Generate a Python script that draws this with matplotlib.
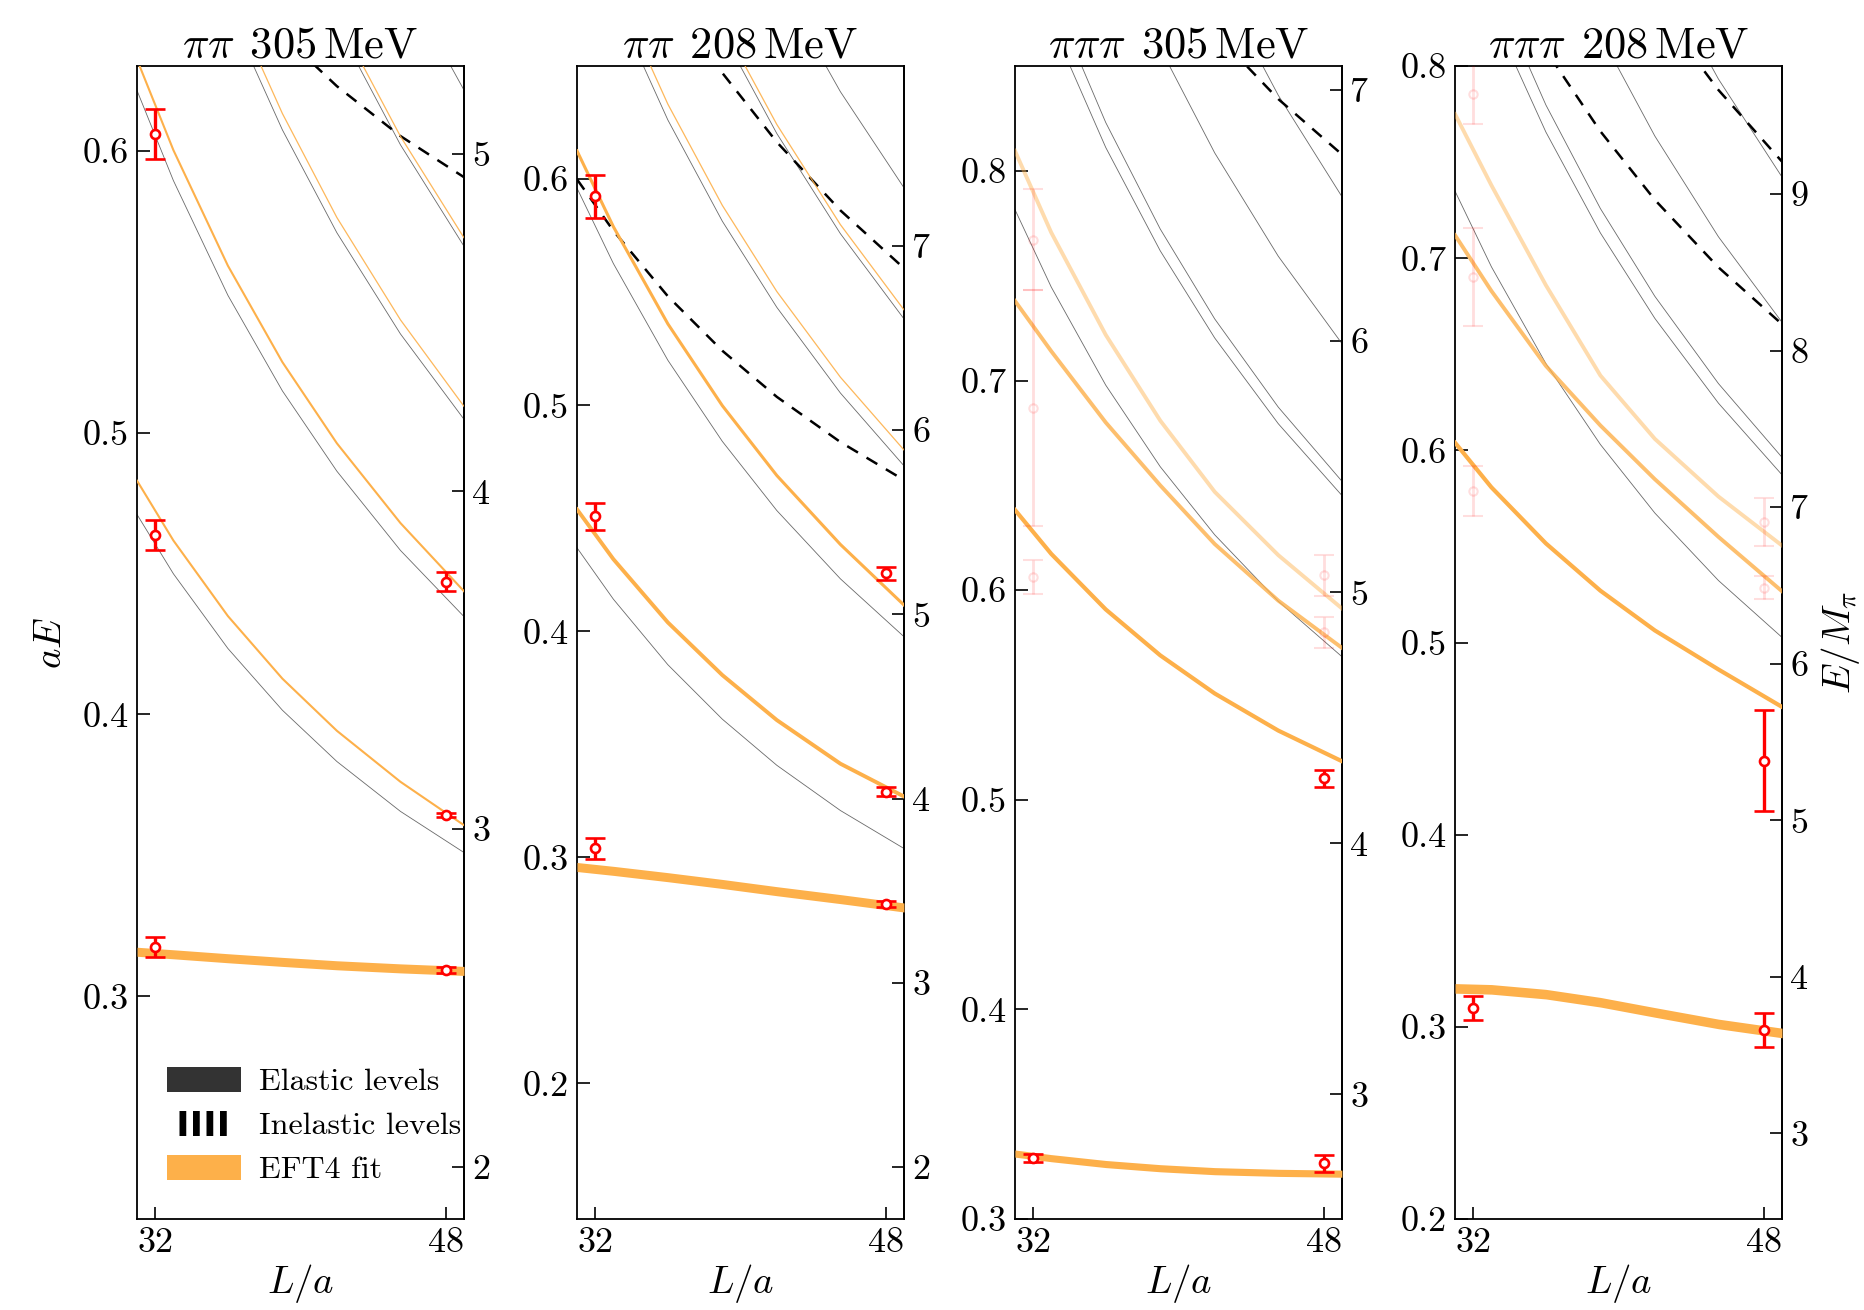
import matplotlib
matplotlib.use("Agg")
import matplotlib.pyplot as plt
from matplotlib.lines import Line2D
import numpy as np

plt.rcParams['font.family'] = 'serif'
plt.rcParams['font.serif'] = ['cmr10']
plt.rcParams['mathtext.fontset'] = 'cm'
plt.rcParams['axes.unicode_minus'] = False

L_grid = [31, 33, 36, 39, 42, 45.5, 49]

# ---------------- pi pi 305 MeV ----------------
pp305_elastic = [
    [0.4709, 0.4499, 0.4234, 0.4015, 0.3833, 0.3656, 0.3510],
    [0.6213, 0.5894, 0.5487, 0.5148, 0.4863, 0.4582, 0.4347],
    [0.7419, 0.7017, 0.6503, 0.6074, 0.5709, 0.5350, 0.5047],
    [0.8454, 0.7984, 0.7381, 0.6875, 0.6446, 0.6021, 0.5661],
    [0.9376, 0.8846, 0.8165, 0.7593, 0.7107, 0.6624, 0.6215],
]
pp305_inelastic = [
    [0.7105, 0.6895, 0.6630, 0.6411, 0.6229, 0.6052, 0.5906],
]
pp305_eft = [
    [0.4829, 0.4617, 0.4349, 0.4127, 0.3942, 0.3761, 0.3607],
    [0.6323, 0.6002, 0.5592, 0.5250, 0.4962, 0.4679, 0.4437],
    [0.7479, 0.7077, 0.6562, 0.6132, 0.5763, 0.5400, 0.5093],
    [0.8484, 0.8014, 0.7411, 0.6905, 0.6476, 0.6051, 0.5691],
]
pp305_band = [0.3158, 0.3149, 0.3135, 0.3122, 0.3110, 0.3099, 0.3090]
pp305_band_err = 0.0016
pp305_L = [32, 48, 32, 48, 32, 48]
pp305_E = [0.3175, 0.3093, 0.4638, 0.3643, 0.6058, 0.4471]
pp305_dE = [0.0037, 0.0010, 0.0053, 0.0008, 0.0089, 0.0033]

# ---------------- pi pi 208 MeV ----------------
pp208_elastic = [
    [0.4369, 0.4142, 0.3852, 0.3611, 0.3407, 0.3207, 0.3039],
    [0.5960, 0.5627, 0.5199, 0.4840, 0.4534, 0.4232, 0.3976],
    [0.7208, 0.6794, 0.6262, 0.5814, 0.5433, 0.5054, 0.4732],
    [0.8270, 0.7788, 0.7169, 0.6647, 0.6202, 0.5759, 0.5382],
    [0.9210, 0.8670, 0.7974, 0.7387, 0.6886, 0.6387, 0.5962],
]
pp208_inelastic = [
    [0.5999, 0.5772, 0.5482, 0.5241, 0.5037, 0.4837, 0.4669],
    [0.7590, 0.7257, 0.6829, 0.6470, 0.6164, 0.5862, 0.5606],
]
pp208_eft = [
    [0.4539, 0.4319, 0.4039, 0.3806, 0.3607, 0.3414, 0.3269],
    [0.6125, 0.5790, 0.5360, 0.4998, 0.4689, 0.4384, 0.4116],
    [0.7278, 0.6864, 0.6332, 0.5884, 0.5503, 0.5124, 0.4802],
    [0.8310, 0.7828, 0.7209, 0.6687, 0.6242, 0.5799, 0.5422],
]
pp208_band = [0.2957, 0.2940, 0.2912, 0.2882, 0.2850, 0.2815, 0.2778]
pp208_band_err = 0.0020
pp208_L = [32, 32, 32, 48, 48, 48]
pp208_E = [0.5925, 0.4508, 0.3039, 0.4256, 0.3289, 0.2793]
pp208_dE = [0.0095, 0.0060, 0.0046, 0.0030, 0.0020, 0.0015]

# ---------------- pi pi pi 305 MeV ----------------
ppp305_elastic = [
    [0.7816, 0.7446, 0.6978, 0.6589, 0.6264, 0.5947, 0.5683],
    [0.9170, 0.8705, 0.8112, 0.7619, 0.7203, 0.6794, 0.6452],
    [0.9320, 0.8841, 0.8231, 0.7723, 0.7294, 0.6873, 0.6520],
    [1.0440, 0.9886, 0.9178, 0.8586, 0.8086, 0.7593, 0.7177],
    [1.1646, 1.1009, 1.0194, 0.9511, 0.8932, 0.8361, 0.7878],
]
ppp305_inelastic = [
    [1.0212, 0.9842, 0.9374, 0.8985, 0.8660, 0.8343, 0.8079],
]
ppp305_eft = [
    [0.6383, 0.6173, 0.5908, 0.5689, 0.5507, 0.5330, 0.5184],
    [0.7380, 0.7140, 0.6800, 0.6500, 0.6220, 0.5950, 0.5725],
    [0.8096, 0.7706, 0.7218, 0.6809, 0.6469, 0.6167, 0.5913],
]
ppp305_band = [0.3312, 0.3290, 0.3262, 0.3242, 0.3228, 0.3220, 0.3216]
ppp305_band_err = 0.0017
ppp305_L = [32, 48, 48]
ppp305_E = [0.3290, 0.3265, 0.5103]
ppp305_dE = [0.0020, 0.0040, 0.0040]
ppp305_faded_L = [32, 32, 32, 48, 48]
ppp305_faded_E = [0.7672, 0.6868, 0.6064, 0.6070, 0.5799]
ppp305_faded_dE = [0.0240, 0.0563, 0.0080, 0.0100, 0.0075]

# ---------------- pi pi pi 208 MeV ----------------
ppp208_elastic = [
    [0.7349, 0.6956, 0.6452, 0.6031, 0.5674, 0.5323, 0.5027],
    [0.8768, 0.8281, 0.7657, 0.7132, 0.6687, 0.6246, 0.5873],
    [0.8940, 0.8440, 0.7798, 0.7259, 0.6802, 0.6348, 0.5964],
    [1.0095, 0.9521, 0.8783, 0.8163, 0.7636, 0.7112, 0.6667],
    [1.1343, 1.0688, 0.9846, 0.9138, 0.8534, 0.7933, 0.7423],
]
ppp208_inelastic = [
    [0.8979, 0.8586, 0.8082, 0.7661, 0.7304, 0.6953, 0.6657],
    [1.0398, 0.9911, 0.9287, 0.8762, 0.8317, 0.7876, 0.7503],
]
ppp208_eft = [
    [0.6040, 0.5808, 0.5516, 0.5270, 0.5063, 0.4860, 0.4665],
    [0.7120, 0.6830, 0.6440, 0.6130, 0.5850, 0.5550, 0.5267],
    [0.7750, 0.7380, 0.6860, 0.6390, 0.6060, 0.5760, 0.5505],
]
ppp208_band = [0.3200, 0.3195, 0.3170, 0.3128, 0.3075, 0.3015, 0.2968]
ppp208_band_err = 0.0025
ppp208_L = [32, 48, 48]
ppp208_E = [0.3098, 0.2983, 0.4386]
ppp208_dE = [0.0060, 0.0087, 0.0265]
ppp208_faded_L = [32, 32, 32, 48, 48]
ppp208_faded_E = [0.7857, 0.6902, 0.5789, 0.5627, 0.5286]
ppp208_faded_dE = [0.0160, 0.0255, 0.0130, 0.0126, 0.0060]

# pion mass in lattice units (for the E/M_pi axis)
aMpi_305 = 0.1198
aMpi_208 = 0.0815

orange = '#fdb04a'

panels = [
    dict(title=r'$\pi\pi\;\,305\,\mathrm{MeV}$', el=pp305_elastic, inel=pp305_inelastic,
         eft=pp305_eft, eft_lw=[1.5, 1.5, 0.9, 0.9], eft_a=[1, 1, 0.9, 0.9],
         band=pp305_band, berr=pp305_band_err, L=pp305_L, E=pp305_E, dE=pp305_dE,
         fL=None, m=aMpi_305, ylim=(0.221, 0.630),
         lt=[0.3, 0.4, 0.5, 0.6], rt=[2, 3, 4, 5], left=0.0735),
    dict(title=r'$\pi\pi\;\,208\,\mathrm{MeV}$', el=pp208_elastic, inel=pp208_inelastic,
         eft=pp208_eft, eft_lw=[2.8, 2.2, 0.9, 0.9], eft_a=[1, 1, 0.9, 0.9],
         band=pp208_band, berr=pp208_band_err, L=pp208_L, E=pp208_E, dE=pp208_dE,
         fL=None, m=aMpi_208, ylim=(0.140, 0.650),
         lt=[0.2, 0.3, 0.4, 0.5, 0.6], rt=[2, 3, 4, 5, 6, 7], left=0.3094),
    dict(title=r'$\pi\pi\pi\;\,305\,\mathrm{MeV}$', el=ppp305_elastic, inel=ppp305_inelastic,
         eft=ppp305_eft, eft_lw=[3.0, 2.8, 2.8], eft_a=[1, 0.8, 0.45],
         band=ppp305_band, berr=ppp305_band_err, L=ppp305_L, E=ppp305_E, dE=ppp305_dE,
         fL=ppp305_faded_L, fE=ppp305_faded_E, fdE=ppp305_faded_dE,
         m=aMpi_305, ylim=(0.300, 0.850),
         lt=[0.3, 0.4, 0.5, 0.6, 0.7, 0.8], rt=[3, 4, 5, 6, 7], left=0.5442),
    dict(title=r'$\pi\pi\pi\;\,208\,\mathrm{MeV}$', el=ppp208_elastic, inel=ppp208_inelastic,
         eft=ppp208_eft, eft_lw=[3.0, 2.8, 2.8], eft_a=[1, 0.8, 0.45],
         band=ppp208_band, berr=ppp208_band_err, L=ppp208_L, E=ppp208_E, dE=ppp208_dE,
         fL=ppp208_faded_L, fE=ppp208_faded_E, fdE=ppp208_faded_dE,
         m=aMpi_208, ylim=(0.200, 0.800),
         lt=[0.2, 0.3, 0.4, 0.5, 0.6, 0.7, 0.8], rt=[3, 4, 5, 6, 7, 8, 9], left=0.7802),
]

fig = plt.figure(figsize=(18.65, 13.10), dpi=100)

for i, p in enumerate(panels):
    ax = fig.add_axes([p['left'], 0.0695, 0.1753, 0.880])
    for g in p['el']:
        ax.plot(L_grid, g, color='#444444', lw=0.6, alpha=0.8, zorder=2)
    for d in p['inel']:
        ax.plot(L_grid, d, color='k', lw=1.8, dashes=(5, 4), zorder=3)
    for o, lw, a in zip(p['eft'], p['eft_lw'], p['eft_a']):
        ax.plot(L_grid, o, color=orange, lw=lw, alpha=a, zorder=4)
    c = np.array(p['band'])
    ax.fill_between(L_grid, c - p['berr'], c + p['berr'], color=orange, lw=0, zorder=4)

    if p['fL'] is not None:
        ax.errorbar(p['fL'], p['fE'], yerr=p['fdE'], fmt='o', color='red', mfc='white',
                    mec='red', ms=6, mew=1.5, capsize=7, elinewidth=2, capthick=2,
                    alpha=0.13, zorder=5)
    ax.errorbar(p['L'], p['E'], yerr=p['dE'], fmt='o', color='red', mfc='white',
                mec='red', ms=6.5, mew=1.9, capsize=7, elinewidth=2.4, capthick=2.4, zorder=6)

    ax.set_xlim(31, 49)
    ax.set_ylim(*p['ylim'])
    ax.set_xticks([32, 48])
    ax.set_xticklabels(['32', '48'])
    ax.set_yticks(p['lt'])
    ax.set_yticklabels(['%.1f' % t for t in p['lt']])
    ax.tick_params(direction='in', length=9, width=1.2, labelsize=26, pad=6)
    for s in ax.spines.values():
        s.set_linewidth(1.3)

    m = p['m']
    sec = ax.secondary_yaxis('right', functions=(lambda y, m=m: y / m, lambda y, m=m: y * m))
    sec.set_yticks(p['rt'])
    sec.set_yticklabels([str(t) for t in p['rt']])
    sec.tick_params(direction='in', length=9, width=1.2, labelsize=26, pad=6)
    sec.spines['right'].set_linewidth(1.3)

    ax.set_title(p['title'], fontsize=32, pad=6)
    ax.set_xlabel(r'$L/a$', fontsize=28, labelpad=2)

    if i == 0:
        ax.set_ylabel(r'$aE$', fontsize=28, labelpad=10)
        handles = [
            Line2D([], [], color='#333333', lw=18),
            Line2D([], [], color='k', lw=18, dashes=(0.27, 0.27)),
            Line2D([], [], color=orange, lw=18),
        ]
        ax.legend(handles, ['Elastic levels', 'Inelastic levels', 'EFT4 fit'],
                  loc='lower left', bbox_to_anchor=(0.04, 0.005), frameon=False,
                  fontsize=23, handlelength=1.55, handletextpad=0.95, labelspacing=0.5)
    if i == 3:
        sec.set_ylabel(r'$E/M_\pi$', fontsize=28, labelpad=8)

fig.savefig('out.png', dpi=100)
